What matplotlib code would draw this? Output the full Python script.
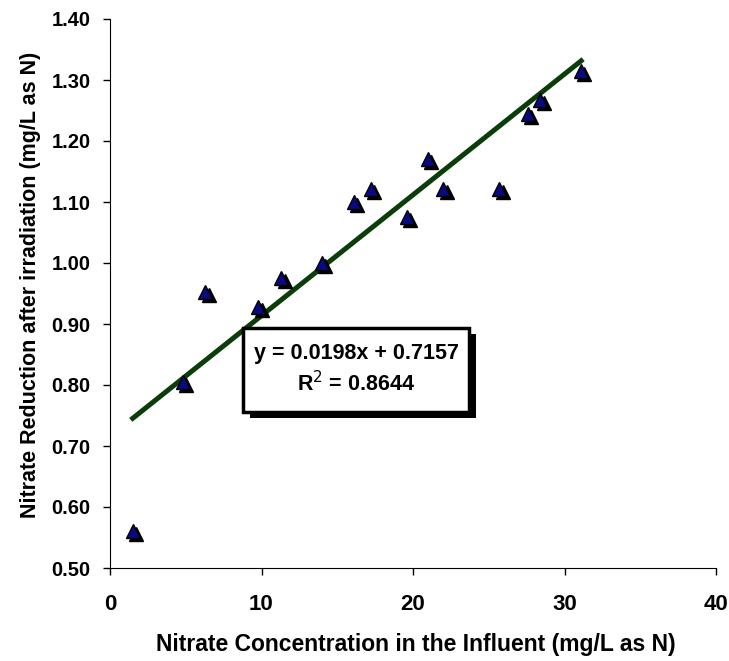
import matplotlib.pyplot as plt
import matplotlib.transforms as mtransforms
import matplotlib.patheffects as pe
from matplotlib.patches import Rectangle
import numpy as np

plt.rcParams['font.family'] = ['Liberation Sans', 'DejaVu Sans']

# data
conc = [1.5, 4.8, 6.3, 9.8, 11.3, 14.0, 16.1, 17.2, 19.6, 21.0, 22.0, 25.7, 27.6, 28.4, 31.1]
reduction = [0.56, 0.805, 0.952, 0.928, 0.975, 1.0, 1.10, 1.122, 1.075, 1.17, 1.122, 1.122, 1.245, 1.268, 1.315]
slope = 0.0198
intercept = 0.7157
r2 = 0.8644

xticks = [0, 10, 20, 30, 40]
yticks = [0.5, 0.6, 0.7, 0.8, 0.9, 1.0, 1.1, 1.2, 1.3, 1.4]

fig = plt.figure(figsize=(7.29, 6.61), dpi=100)
ax = fig.add_axes([110/729, 1 - 568/661, 606/729, 549/661])

# trend line
xl = np.array([min(conc), max(conc)])
ax.plot(xl, slope*xl + intercept, color='#0a3d0a', lw=3.6, zorder=2)

# markers with a black drop shadow
shadow = mtransforms.offset_copy(ax.transData, fig=fig, x=2.4, y=-2.2, units='points')
ax.plot(conc, reduction, '^', ms=9.5, color='black', mec='black', transform=shadow, zorder=3)
ax.plot(conc, reduction, '^', ms=9.5, color='#0a0a80', mec='black', mew=1, zorder=4)

ax.set_xlim(0, 40)
ax.set_ylim(0.5, 1.4)
ax.set_xticks(xticks)
ax.set_yticks(yticks)
ax.set_yticklabels(['%.2f' % v for v in yticks], fontsize=14.5, fontweight='bold')
ax.set_xticklabels([str(v) for v in xticks], fontsize=16, fontweight='bold')
ax.tick_params(direction='out', length=5, width=1)
ax.tick_params(axis='y', pad=9)
ax.tick_params(axis='x', pad=14)
for s in ['top', 'right']:
    ax.spines[s].set_visible(False)

ax.set_xlabel('Nitrate Concentration in the Influent (mg/L as N)', fontsize=16.5, fontweight='bold')
ax.xaxis.set_label_coords(0.505, -0.140)
ax.xaxis.label.set_va('center')
ax.set_ylabel('Nitrate Reduction after irradiation (mg/L as N)', fontsize=15.5, fontweight='bold')
ax.yaxis.set_label_coords(-0.132, 0.515)
ax.yaxis.label.set_va('center')

# equation box
box = Rectangle((0.219, 0.284), 0.373, 0.153, transform=ax.transAxes, facecolor='white',
                edgecolor='black', lw=2.5, zorder=5)
box.set_path_effects([pe.SimplePatchShadow(offset=(5, -4.5), shadow_rgbFace='black', alpha=1), pe.Normal()])
ax.add_patch(box)
ax.text(0.406, 0.362, 'y = %.4fx + %.4f\nR$^{2}$ = %.4f' % (slope, intercept, r2),
        transform=ax.transAxes, ha='center', va='center', fontsize=15.5, fontweight='bold',
        linespacing=1.35, zorder=6)

fig.savefig('out.png', dpi=100)
